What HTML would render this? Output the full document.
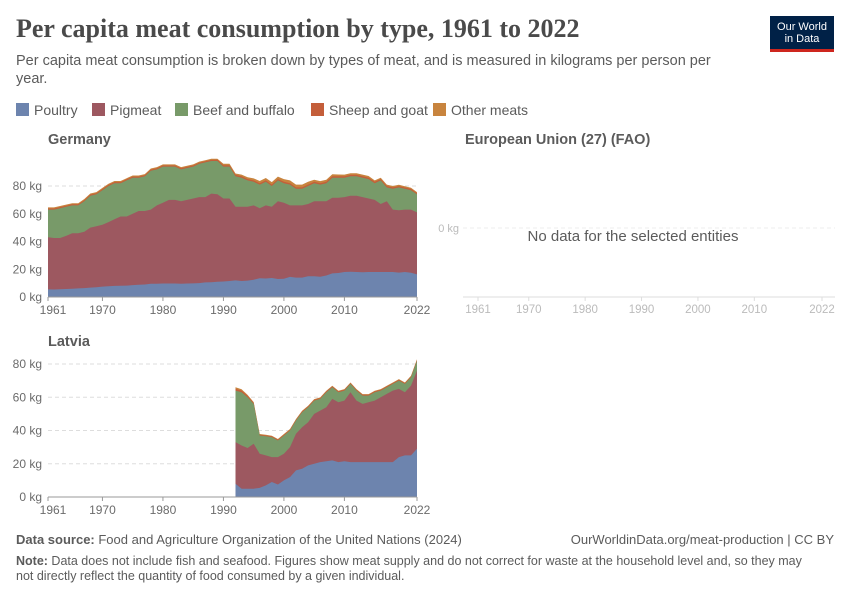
<!DOCTYPE html>
<html><head><meta charset="utf-8"><style>
body{margin:0;width:850px;height:600px;background:#fff;font-family:"Liberation Sans",sans-serif;overflow:hidden;position:relative}
.t{position:absolute;white-space:nowrap}
</style></head><body>
<div class="t" style="left:16px;top:14px;font-family:'Liberation Serif',serif;font-size:26px;font-weight:bold;color:#4a4a4a">Per capita meat consumption by type, 1961 to 2022</div>
<div class="t" style="left:16px;top:52px;font-size:14.5px;line-height:18px;color:#5b5b5b;white-space:normal;width:700px">Per capita meat consumption is broken down by types of meat, and is measured in kilograms per person per year.</div>
<div style="position:absolute;left:770px;top:16px;width:64px;height:36px;background:#002147;border-bottom:3px solid #ce261e;box-sizing:border-box;color:#fff;font-size:11px;line-height:12px;text-align:center;padding-top:5px">Our World<br>in Data</div>
<svg id="s" width="850" height="600" style="position:absolute;left:0;top:0"></svg>
<div class="t" style="left:16px;top:532px;font-size:13px;color:#5b5b5b"><b>Data source:</b> Food and Agriculture Organization of the United Nations (2024)</div>
<div class="t" style="right:16px;top:532px;font-size:13px;color:#5b5b5b">OurWorldinData.org/meat-production | CC BY</div>
<div class="t" style="left:16px;top:554px;width:790px;white-space:normal;font-size:12.5px;line-height:15px;color:#5b5b5b"><b>Note:</b> Data does not include fish and seafood. Figures show meat supply and do not correct for waste at the household level and, so they may not directly reflect the quantity of food consumed by a given individual.</div>
<script>
const seriesNames=["Poultry","Pigmeat","Beef and buffalo","Sheep and goat","Other meats"];
const colors=["#6d84ae","#9d5860","#789a69","#c45e3a","#c8843e"];
const deYears=[];for(let y=1961;y<=2022;y++)deYears.push(y);
const dePoultry=[5.5,5.4,5.6,5.8,6,6.2,6.4,6.8,7,7.5,7.8,8,8.1,8.2,8.6,8.8,9,9.5,9.6,9.7,9.7,9.7,9.6,9.7,9.8,10,10.5,10.6,11,11.2,11.5,12,11.5,11.8,12.5,13.5,13.3,13.7,13,13.2,14.5,14,14,15,15,14.6,15.5,17,17.3,18,18.2,18,17.8,18,18,18,18,18,17.6,18,17.5,16.3];
const dePigTop=[43,42.5,42.5,44,46,46,47,50,51,52,54,56,58,58,60,62,62,63,66,68,70,70,69,70,71,72,72,74.5,74,71,71,65,65,65,66,64,66,65,69,68,66,66,66,67,69,69,69,71.5,71.5,72,73,73,72,71,70,67,69,63,62.5,63,63,61,55];
const deBeefTop=[63,63,64,65,66,66,69,73,74,77,80,82,82,84,86,86,87,91,92,94,94,94,92,93,94,96,97,98,98,94,94,87,86,84,83,81,83,80,84,82,81,78,78,80,82,81,82,86,86,86,87,87,86,85,82,84,79,78,79,78,77,74,69];
const deSheep=[0.8,0.8,0.8,0.8,0.8,0.8,0.8,0.8,0.8,0.8,0.8,0.8,0.8,0.8,0.8,0.8,0.8,0.8,0.8,0.8,0.8,0.8,0.8,0.8,0.8,0.8,0.8,0.8,0.9,1,1,1,1,1,1,1,1,1,1,1,1,1,1,1,1,1,1,1,1,1,1,1,1,1,1,1,1,1,0.9,0.9,0.9,0.8,0.8];
const deOther=[0.8,0.8,0.8,0.8,0.8,0.8,0.8,0.8,0.8,0.8,0.8,0.8,0.8,0.8,0.8,0.8,0.8,0.8,0.8,0.8,0.8,0.8,0.8,0.8,0.8,0.8,0.8,0.8,0.8,1,1,1,1.2,1.3,1.5,1.6,1.8,1.8,1.8,2,2,2,2,2,1.5,1.5,1.5,1.5,1.3,1.2,1.2,1.2,1.2,1.2,1,1,1,1,1,0.9,0.9,0.8,0.8];
const lvYears=[];for(let y=1992;y<=2022;y++)lvYears.push(y);
const lvPoultry=[8,5,5,5,5.5,7,9,7.5,10,12,16,17,19,20,21,21.5,22,21,21.5,21,21,21,21,21,21,21,21,24,25,25,29];
const lvPigTop=[33,31,29.5,32,26,25,24,24,26,30,38,42,45,50,52,54,59,57,58,63,58,56,57,58,60,62,64,65,63,67,76];
const lvBeefTop=[64,63,60,56,37,36.5,36,34,37,40,46,51,54,58,59,63,66,63,64,68,64,61,61,63,64,66,68,70,68,72,82];
const lvSheep=[1,1,0.8,0.6,0.5,0.5,0.5,0.5,0.5,0.5,0.5,0.5,0.5,0.5,0.5,0.5,0.5,0.5,0.5,0.5,0.5,0.5,0.5,0.5,0.5,0.5,0.5,0.5,0.5,0.5,0.5];
const lvOther=[1,0.8,0.6,0.5,0.4,0.4,0.4,0.4,0.4,0.4,0.4,0.4,0.4,0.4,0.4,0.4,0.4,0.4,0.4,0.4,0.4,0.4,0.4,0.4,0.4,0.4,0.4,0.4,0.4,0.4,0.4];
const xTicks=[1961,1970,1980,1990,2000,2010,2022];
const yTicks=[0,20,40,60,80];
const legendX=[16,92,175,311,433];
const S=document.getElementById('s');const NS="http://www.w3.org/2000/svg";
function el(t,a,txt){const e=document.createElementNS(NS,t);for(const k in a)e.setAttribute(k,a[k]);if(txt!=null)e.textContent=txt;S.appendChild(e);return e;}
seriesNames.forEach((n,i)=>{
 const r=el('rect',{x:legendX[i],y:103,width:13,height:13,fill:colors[i]});
 
 const t=el('text',{x:legendX[i]+18,y:115,'font-size':14,fill:'#5b5b5b'},n);
 
});
function panel(name,x0,x1,y0,y80,years,poultry,pigTop,beefTop,sheep,other,titleY){
 const X=y=>x0+(y-1961)*(x1-x0)/(2022-1961);
 const Y=v=>y0-(v/80)*(y0-y80);
 const tt=el('text',{x:48,y:titleY,'font-size':14.5,'font-weight':'bold',fill:'#5b5b5b'},name);
 
 yTicks.forEach(v=>{
  if(v>0){const g=el('line',{x1:x0,x2:x1,y1:Y(v),y2:Y(v),stroke:'#ddd','stroke-dasharray':'4,3'});}
  const t=el('text',{x:x0-6,y:Y(v)+4,'font-size':12,fill:'#6b6b6b','text-anchor':'end'},v+' kg');
  
 });
 const tops=[poultry,pigTop,beefTop,beefTop.map((v,i)=>v+sheep[i]),beefTop.map((v,i)=>v+sheep[i]+other[i])];
 for(let k=4;k>=0;k--){
  let d='M'+X(years[0])+','+Y(0);
  years.forEach((yr,i)=>d+='L'+X(yr).toFixed(1)+','+Y(tops[k][i]).toFixed(1));
  d+='L'+X(years[years.length-1])+','+Y(0)+'Z';
  const p=el('path',{d:d,fill:colors[k]});
  
 }
 const ax=el('line',{x1:x0,x2:x1,y1:y0,y2:y0,stroke:'#999'});
 xTicks.forEach(yr=>{
  el('line',{x1:X(yr),x2:X(yr),y1:y0,y2:y0+4,stroke:'#999'});
  const t=el('text',{x:X(yr)+(yr===1961?5:0),y:y0+17,'font-size':12,fill:'#6b6b6b','text-anchor':'middle'},yr);
  
 });
}
panel('Germany',48,417,297,186,deYears,dePoultry,dePigTop,deBeefTop,deSheep,deOther,144);
panel('Latvia',48,417,497,364,lvYears,lvPoultry,lvPigTop,lvBeefTop,lvSheep,lvOther,346);
const et=el('text',{x:465,y:144,'font-size':14.5,'font-weight':'bold',fill:'#5b5b5b'},'European Union (27) (FAO)');

const eg=el('line',{x1:463,x2:835,y1:228,y2:228,stroke:'#eee','stroke-dasharray':'4,3'});
el('text',{x:459,y:232,'font-size':11,fill:'#bbb','text-anchor':'end'},'0 kg');
const nd=el('text',{x:633,y:241,'font-size':15,fill:'#5b5b5b','text-anchor':'middle'},'No data for the selected entities');

el('line',{x1:463,x2:835,y1:297,y2:297,stroke:'#ddd'});
xTicks.forEach(yr=>{const x=478+(yr-1961)*(822-478)/61;el('line',{x1:x,x2:x,y1:297,y2:301,stroke:'#ddd'});el('text',{x:x,y:313,'font-size':11.5,fill:'#bbb','text-anchor':'middle'},yr);});
</script>
</body></html>
